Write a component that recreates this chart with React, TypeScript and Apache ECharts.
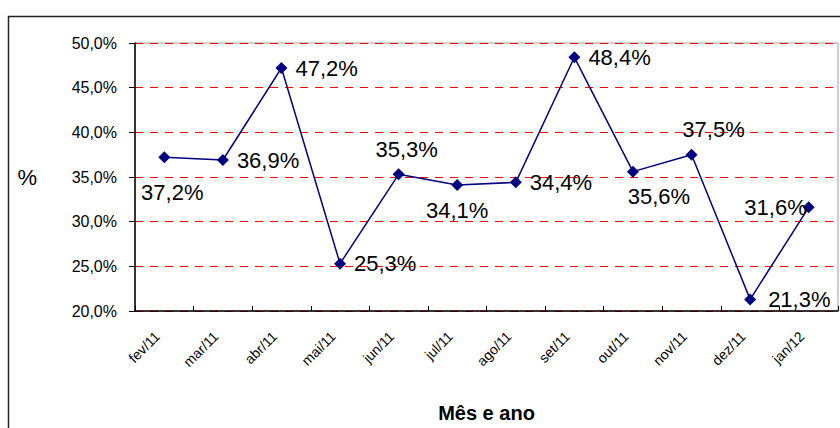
import React, { useEffect, useRef } from "react";
import * as echarts from "echarts";

const categories = ["fev/11", "mar/11", "abr/11", "mai/11", "jun/11", "jul/11", "ago/11", "set/11", "out/11", "nov/11", "dez/11", "jan/12"];
const values = [37.2, 36.9, 47.2, 25.3, 35.3, 34.1, 34.4, 48.4, 35.6, 37.5, 21.3, 31.6];
const yMin = 20;
const yMax = 50;
const yStep = 5;
const xTitle = "Mês e ano";
const yTitle = "%";

const labelSide = ["bottom", "right", "right", "right", "top", "bottom", "right", "right", "bottom", "top", "right", "left"];
const labelShift = [[8, 10], [0, 0], [0, 0], [0, 0], [8, 0], [0, 0], [0, 0], [0, 0], [26, 0], [22, 0], [4, 0], [12, 0]];

const FONT = "'Liberation Sans', Arial, Helvetica, sans-serif";
const fmt = (v: number) => v.toFixed(1).replace(".", ",") + "%";

export default function App() {
  const ref = useRef<HTMLDivElement>(null);
  useEffect(() => {
    if (!ref.current) return;
    const chart = echarts.init(ref.current, null, { renderer: "svg" });
    chart.setOption({
      animation: false,
      backgroundColor: "#ffffff",
      textStyle: { fontFamily: FONT },
      graphic: [
        {
          type: "rect",
          silent: true,
          z: -1,
          shape: { x: 8.5, y: 16.5, width: 900, height: 500 },
          style: { fill: "none", stroke: "#222", lineWidth: 1.5 },
        },
      ],
      grid: {
        left: 135,
        top: 43,
        right: 2,
        bottom: 112,
        show: true,
        borderColor: "#a0a0a0",
        borderWidth: 1,
        backgroundColor: "transparent",
      },
      xAxis: {
        type: "category",
        data: categories,
        boundaryGap: true,
        name: xTitle,
        nameLocation: "middle",
        nameGap: 92,
        nameTextStyle: { fontFamily: FONT, fontSize: 20, fontWeight: "bold", color: "#000" },
        axisLine: { lineStyle: { color: "#000", width: 1.5 } },
        axisTick: { show: true, inside: true, length: 5, lineStyle: { color: "#000" } },
        axisLabel: {
          rotate: 45,
          margin: 16,
          padding: [0, 10, 0, 0],
          fontFamily: FONT,
          fontSize: 14,
          color: "#000",
          interval: 0,
        },
        splitLine: { show: false },
      },
      yAxis: {
        type: "value",
        min: yMin,
        max: yMax,
        interval: yStep,
        name: yTitle,
        nameLocation: "middle",
        nameRotate: 0,
        nameGap: 98,
        nameTextStyle: { fontFamily: FONT, fontSize: 22, color: "#000" },
        axisLine: { show: true, lineStyle: { color: "#000", width: 1.5 } },
        axisTick: { show: true, inside: false, length: 6, lineStyle: { color: "#000" } },
        axisLabel: { formatter: (v: number) => fmt(v), margin: 18, fontFamily: FONT, fontSize: 16, color: "#000" },
        splitLine: { show: true, lineStyle: { color: "#ff0000", type: [8, 7], width: 1 } },
      },
      series: [
        {
          type: "line",
          data: values.map((v, i) => ({
            value: v,
            label: { position: labelSide[i], offset: labelShift[i] },
          })),
          symbol: "diamond",
          symbolSize: 12,
          lineStyle: { color: "#000080", width: 1.5 },
          itemStyle: { color: "#000080" },
          label: {
            show: true,
            distance: 8,
            formatter: (p: any) => fmt(p.value),
            fontFamily: FONT,
            fontSize: 22,
            color: "#000",
          },
        },
      ],
    });
    return () => chart.dispose();
  }, []);
  return <div ref={ref} style={{ position: "absolute", left: 0, top: 0, width: 840, height: 428 }} />;
}
